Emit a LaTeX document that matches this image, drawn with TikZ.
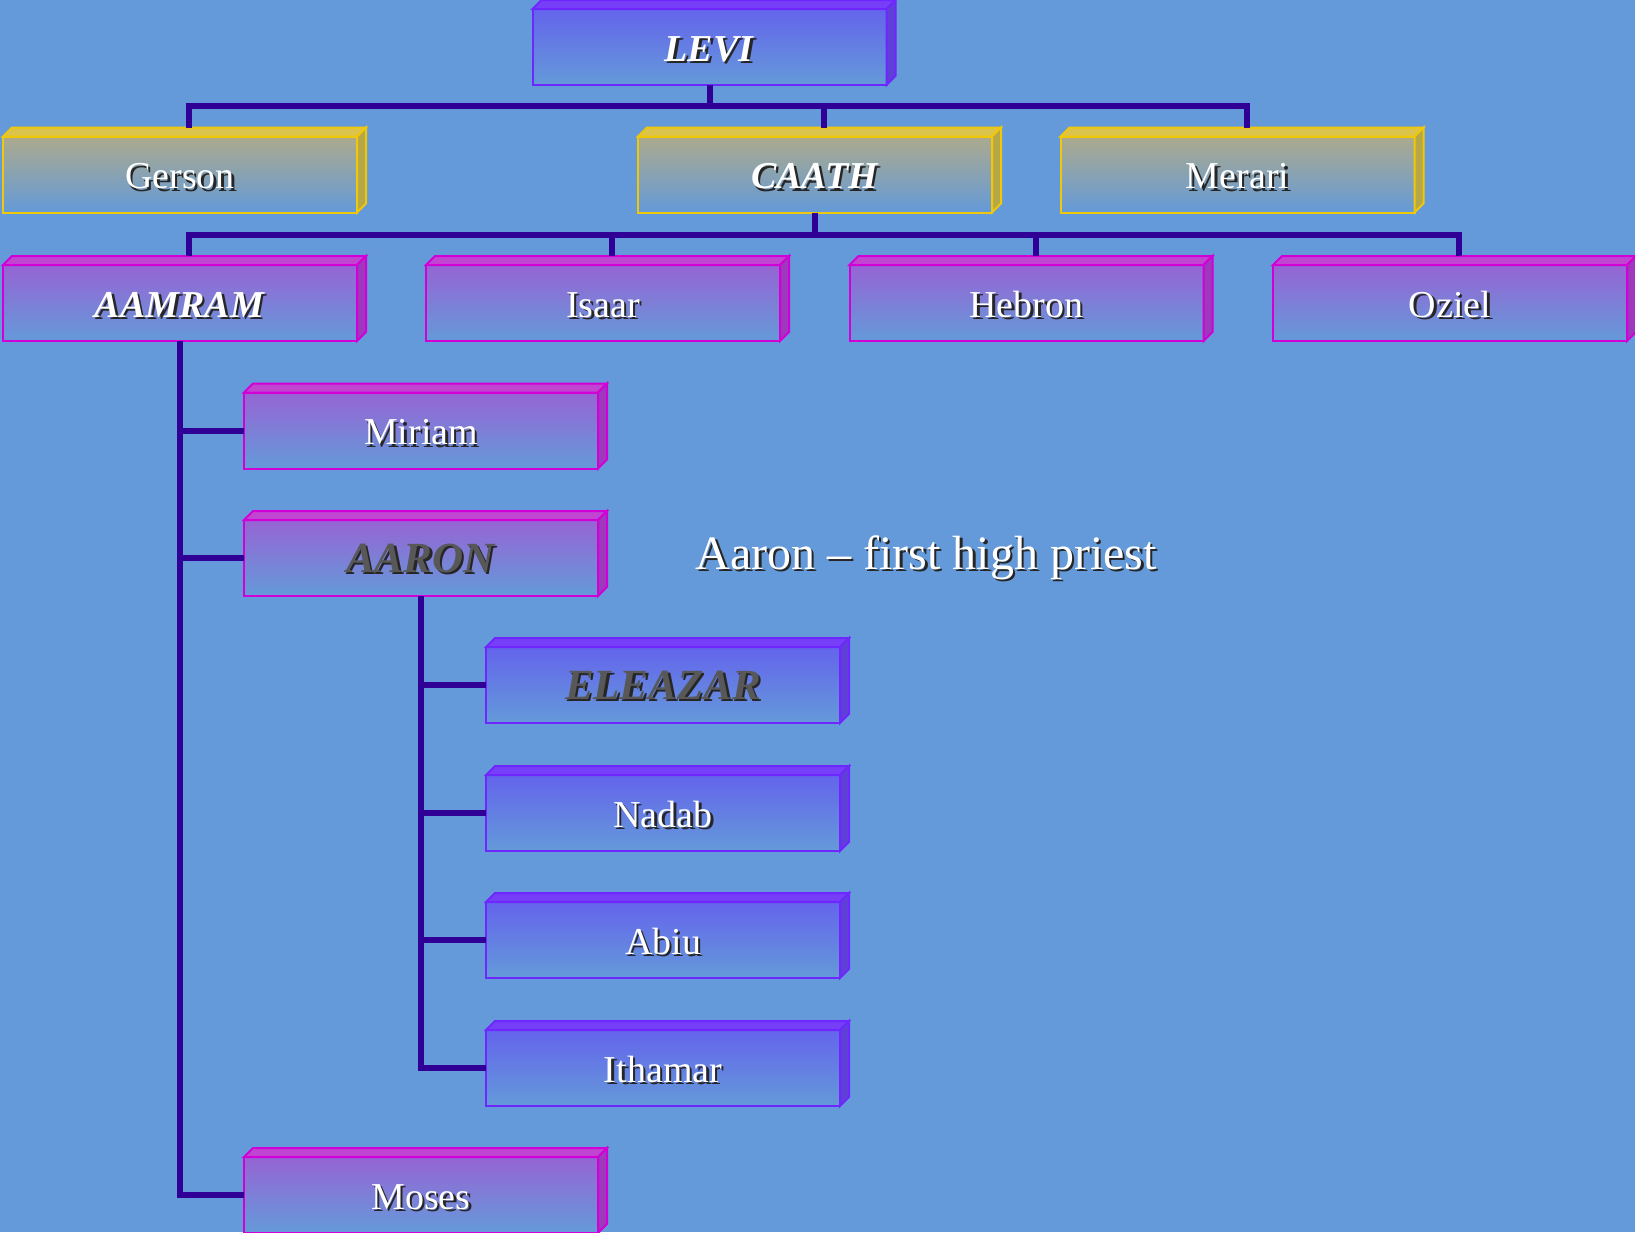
\documentclass[tikz,border=0pt]{standalone}
\usepackage{fontspec}
\setmainfont{Liberation Serif}[Ligatures=CommonOff]
\usetikzlibrary{calc}

% palette
\definecolor{bg}{RGB}{100,154,217}
\definecolor{wire}{RGB}{48,0,150}
\definecolor{vLine}{RGB}{110,40,255}
\definecolor{vFront}{RGB}{100,100,236}
\definecolor{vTop}{RGB}{118,62,246}
\definecolor{vSide}{RGB}{96,62,216}
\definecolor{yLine}{RGB}{240,200,10}
\definecolor{yFront}{RGB}{172,170,140}
\definecolor{yTop}{RGB}{220,196,76}
\definecolor{ySide}{RGB}{182,168,72}
\definecolor{mLine}{RGB}{210,0,215}
\definecolor{mFront}{RGB}{150,100,212}
\definecolor{mTop}{RGB}{192,70,210}
\definecolor{mSide}{RGB}{158,56,188}
\definecolor{dimtext}{RGB}{88,88,88}

% text with a drop shadow
\newcommand\shadowtext[2]{\leavevmode\rlap{\kern2.5pt\raisebox{-2.5pt}{\color{black!85}#2}}{\color{#1}#2}}
\newcommand\bi[1]{\textbf{\textit{#1}}}

\tikzset{
  card/.style={rectangle, minimum width=354pt, minimum height=76pt,
    inner sep=0pt, outer sep=0pt, line width=2pt,
    text height=30pt, text depth=2pt,
    font=\fontsize{38}{40}\selectfont},
  big/.style={font=\fontsize{43}{45}\selectfont},
  vcard/.style={card, draw=vLine, top color=vFront, bottom color=bg},
  ycard/.style={card, draw=yLine, top color=yFront, bottom color=bg},
  mcard/.style={card, draw=mLine, top color=mFront, bottom color=bg},
  conn/.style={draw=wire, line width=6pt},
}

\begin{document}
\begin{tikzpicture}[x=1pt, y=-1pt]
\useasboundingbox (0,0) rectangle (1635,1232);
\fill[bg] (0,0) rectangle (1635,1232);

% generations
\node[vcard] (levi)   at (709.5,47)  {\shadowtext{white}{\bi{LEVI}}};
\node[ycard] (gerson) at (180,174.5)   {\shadowtext{white}{Gerson}};
\node[ycard] (caath)  at (815,174.5)   {\shadowtext{white}{\bi{CAATH}}};
\node[ycard] (merari) at (1237.5,174.5){\shadowtext{white}{Merari}};
\node[mcard] (aamram) at (180,303)     {\shadowtext{white}{\bi{AAMRAM}}};
\node[mcard] (isaar)  at (603,303)     {\shadowtext{white}{Isaar}};
\node[mcard] (hebron) at (1026.5,303)  {\shadowtext{white}{Hebron}};
\node[mcard] (oziel)  at (1450,303)    {\shadowtext{white}{Oziel}};
\node[mcard] (miriam) at (421,430.5)   {\shadowtext{white}{Miriam}};
\node[mcard, big] (aaron)  at (421,558)     {\shadowtext{dimtext}{\bi{AARON}}};
\node[vcard, big] (eleazar) at (663,685)    {\shadowtext{dimtext}{\bi{ELEAZAR}}};
\node[vcard] (nadab)  at (663,813)     {\shadowtext{white}{Nadab}};
\node[vcard] (abiu)   at (663,940)     {\shadowtext{white}{Abiu}};
\node[vcard] (ithamar) at (663,1068)   {\shadowtext{white}{Ithamar}};
\node[mcard] (moses)  at (421,1195)    {\shadowtext{white}{Moses}};

% depth faces of each card
\foreach \n/\c in {levi/v, gerson/y, caath/y, merari/y, aamram/m, isaar/m,
    hebron/m, oziel/m, miriam/m, aaron/m, eleazar/v, nadab/v, abiu/v,
    ithamar/v, moses/m}{
  \filldraw[line width=2pt, draw=\c Line, fill=\c Top]
    (\n.north west) -- ++(9pt,9pt) -- ([shift={(9pt,9pt)}]\n.north east)
    -- (\n.north east) -- cycle;
  \filldraw[line width=2pt, draw=\c Line, fill=\c Side]
    (\n.north east) -- ++(9pt,9pt) -- ([shift={(9pt,9pt)}]\n.south east)
    -- (\n.south east) -- cycle;
}

% caption
\node[anchor=base west, font=\fontsize{48}{50}\selectfont] (note) at (692,569)
  {\shadowtext{white}{Aaron – first high priest}};

% connectors
\foreach \c in {gerson, caath, merari}
  \draw[conn] (levi.south) -- ++(0pt,-21pt) -| ([shift={(9pt,9pt)}]\c.north);
\foreach \c in {aamram, isaar, hebron, oziel}
  \draw[conn] (caath.south) -- ++(0pt,-22pt) -| ([shift={(9pt,9pt)}]\c.north);
\foreach \c in {miriam, aaron, moses}
  \draw[conn] (aamram.south) |- (\c.west);
\foreach \c in {eleazar, nadab, abiu, ithamar}
  \draw[conn] (aaron.south) |- (\c.west);
\end{tikzpicture}
\end{document}
